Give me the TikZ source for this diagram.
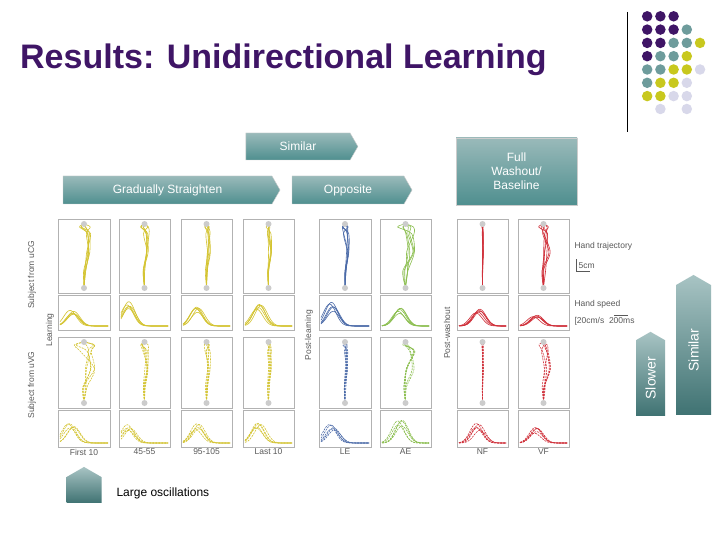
\documentclass[tikz,border=0pt]{standalone}
\usepackage{fontspec}
\setmainfont{Liberation Sans}
\usetikzlibrary{shapes.symbols}
\definecolor{ttl}{HTML}{3F1566}
\definecolor{tealc}{HTML}{6E9C9C}
\definecolor{yelc}{HTML}{C8C81E}
\definecolor{lavc}{HTML}{D8D8EA}
\definecolor{boxt}{HTML}{4F8F8F}
\definecolor{trY}{HTML}{D4C431}
\definecolor{trB}{HTML}{4A6AA8}
\definecolor{trG}{HTML}{8CBF50}
\definecolor{trR}{HTML}{D0303A}
\tikzset{
 dot/.style={circle,inner sep=0pt,minimum size=10.5pt},
 tag/.style={signal,signal to=east,signal pointer angle=120,draw=gray!40,top color=tealc!70!white,bottom color=boxt,text=white,font=\fontsize{12}{14}\selectfont,inner sep=0pt},
 uparr/.style={signal,signal to=east,signal pointer angle=120,rotate=90,top color=tealc!60!white,bottom color=boxt!80!black,text=white,font=\fontsize{14}{16}\selectfont,inner sep=0pt},
 pbox/.style={draw=gray!60,line width=0.8pt},
 rlab/.style={rotate=90,font=\fontsize{8.5}{9}\selectfont,text=gray!70!black},
 slab/.style={font=\fontsize{8.5}{10}\selectfont,text=gray!70!black},
 dsh/.style={dash pattern=on 2pt off 1pt}
}
\newcommand\mytraj[7]{% x0 y0 x1 y1 color spread style
 \draw[pbox] (#1,#2) rectangle (#3,#4);
 \pgfmathsetmacro\cx{(#1+#3)/2}\pgfmathsetmacro\hh{#4-#2}
 \foreach \k in {1,...,6}{
  \pgfmathsetmacro\aa{#6*(0.5+0.5*rand)}\pgfmathsetmacro\bb{#6*(0.3+0.7*rand)}\pgfmathsetmacro\cc{0.3*#6*rand}\pgfmathsetmacro\dd{0.8*#6*rand}
  \draw[#5,line width=0.6pt,#7] plot[smooth] coordinates {(\cx,#4-6) (\cx+\cc,#4-0.3*\hh) (\cx+\aa,#2+0.45*\hh) (\cx+\bb,#2+0.2*\hh) (\cx+\dd,#2+8) (\cx,#2+5)};}
 \fill[gray!40] (\cx,#4-5) circle (3) (\cx,#2+5) circle (3);
}
\newcommand\myspeed[8]{% x0 y0 x1 y1 color amp center-frac style
 \draw[pbox] (#1,#2) rectangle (#3,#4);
 \pgfmathsetmacro\wd{#3-#1}\pgfmathsetmacro\ca{#1+#7*\wd}
 \foreach \k in {1,...,5}{
  \pgfmathsetmacro\am{#6*(0.8+0.2*rand)}\pgfmathsetmacro\cs{\ca+3*rand}
  \draw[#5,line width=0.6pt,#8] plot[domain=#1+2:#3-2,samples=30,smooth] (\x,{#4-4-\am*exp(-((\x-\cs)/(0.17*\wd))^2)});}
}
\begin{document}
\begin{tikzpicture}[x=1pt,y=-1pt]
\useasboundingbox (0,0) rectangle (720,540);
\fill[white] (0,0) rectangle (720,540);
\node[anchor=west,font=\bfseries\fontsize{34}{40}\selectfont,text=ttl,inner sep=0pt] (title) at (20,60) {Results: Unidirectional Learning};
\draw[line width=0.8pt] (627,12) -- (627,132);
% dots
\foreach \r/\lst in {1/{ttl,ttl,ttl},2/{ttl,ttl,ttl,tealc},3/{ttl,ttl,tealc,tealc,yelc},4/{ttl,tealc,tealc,yelc},5/{tealc,tealc,yelc,yelc,lavc},6/{tealc,yelc,yelc,lavc},7/{yelc,yelc,lavc,lavc}}{
 \foreach \c [count=\i] in \lst {
  \node[dot,fill=\c] (d\r\i) at ({634+13.2*\i},{3+13.3*\r}) {};}}
\node[dot,fill=lavc] (d82) at (660.4,109) {};
\node[dot,fill=lavc] (d84) at (686.8,109) {};
% tags
\node[tag,minimum width=112pt,minimum height=27pt] (sim) at (298,146.5) {Similar};
\node[tag,minimum width=217pt,minimum height=28pt] (grad) at (167.5,190) {Gradually Straighten};
\node[tag,minimum width=120pt,minimum height=28pt] (opp) at (348,190) {Opposite};
\node[draw=gray!40,top color=tealc!70!white,bottom color=boxt,text=white,font=\fontsize{12}{14}\selectfont,minimum width=121pt,minimum height=67pt,align=center] (full) at (516.5,171.5) {Full\\Washout/\\Baseline};
% panels
\pgfmathsetseed{7}
\foreach \xa/\xb/\col/\spa/\spb/\am/\cf/\amb in {58/110/trY/8/14/18/0.25/20,119/170/trY/5/5/28/0.2/20,181/232/trY/4/4/20/0.3/22,243/294/trY/3/3/22/0.3/22,319/371/trB/4/3/24/0.25/20,380/431/trG/10/10/20/0.4/26,457/508/trR/1/1/18/0.4/20,518/569/trR/7/7/12/0.35/16}{
 \mytraj{\xa}{219}{\xb}{293}{\col}{\spa}{solid}
 \myspeed{\xa}{295}{\xb}{330}{\col}{\am}{\cf}{solid}
 \mytraj{\xa}{337}{\xb}{408}{\col}{\spb}{dsh}
 \myspeed{\xa}{410}{\xb}{447}{\col}{\amb}{\cf}{dsh}
}
\foreach \x/\t in {84/First 10,144.5/45-55,206.5/95-105,268.5/Last 10,345/LE,405.5/AE,482.5/NF,543.5/VF}
 \node[slab] at (\x,452) {\t};
\node[rlab] (l1) at (32,275) {Subject from uCG};
\node[rlab] (l2) at (50,330) {Learning};
\node[rlab] (l3) at (32,385) {Subject from uVG};
\node[rlab] (l4) at (309,335) {Post-learning};
\node[rlab] (l5) at (447,333) {Post-washout};
\node[slab,anchor=west] (ht) at (571,246) {Hand trajectory};
\node[slab,anchor=west] (cm) at (575,266) {5cm};
\draw[gray!70!black] (576,259) -- (576,271) -- (590,271);
\node[slab,anchor=west] (hs) at (571,304) {Hand speed};
\node[slab,anchor=west] (cms) at (571,321) {[20cm/s\ \ 200ms};
\draw[gray!70!black] (614,315) -- (628,315);
% up arrows
\node[uparr,minimum width=84pt,minimum height=29pt] (slow) at (650.5,378) {Slower};
\node[uparr,minimum width=140pt,minimum height=35pt] (simr) at (693.5,350) {Similar};
\node[uparr,minimum width=36pt,minimum height=35pt] (lo) at (84,490) {};
\node[anchor=west,font=\fontsize{12}{14}\selectfont] (lot) at (113,493) {Large oscillations};
\end{tikzpicture}
\end{document}
